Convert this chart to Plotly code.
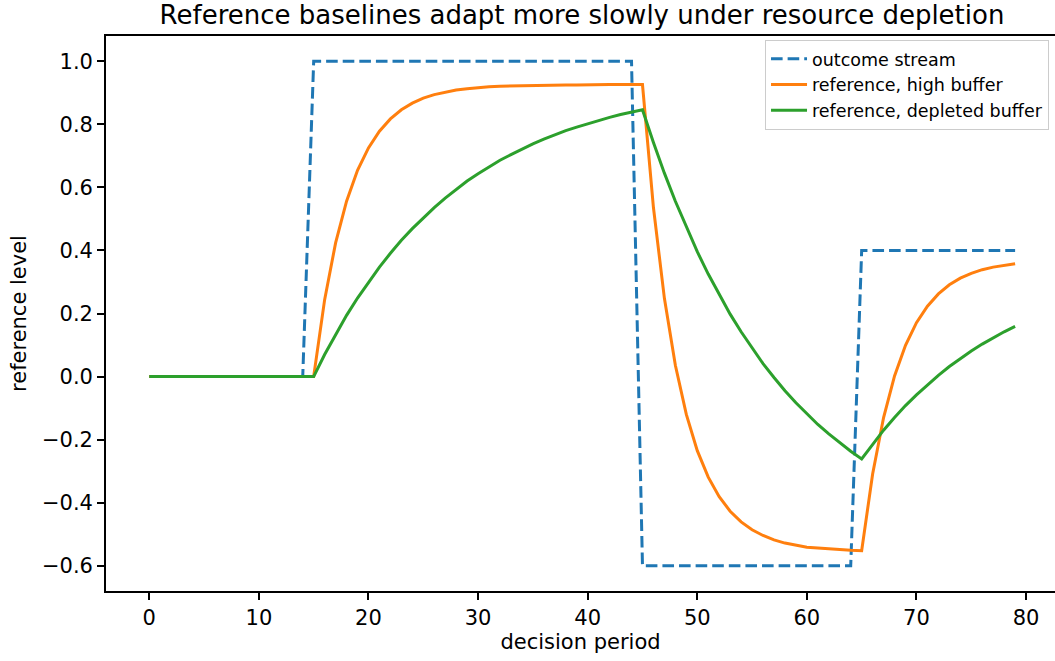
import plotly.graph_objects as go

periods = list(range(80))

outcome_stream = [0.0] * 15 + [1.0] * 30 + [-0.6] * 20 + [0.4] * 15

reference_high_buffer = (
    [0.0] * 16
    + [0.244, 0.424, 0.556, 0.654, 0.725, 0.778, 0.817, 0.846, 0.867, 0.883,
       0.894, 0.902, 0.909, 0.913, 0.917, 0.919, 0.921, 0.922, 0.923, 0.924,
       0.924, 0.925, 0.925, 0.925, 0.926, 0.926, 0.926, 0.926, 0.926, 0.926]
    + [0.536, 0.248, 0.036, -0.120, -0.235, -0.319, -0.381, -0.427, -0.461, -0.486,
       -0.504, -0.518, -0.528, -0.535, -0.541, -0.544, -0.547, -0.550, -0.551, -0.552]
    + [-0.309, -0.130, 0.002, 0.099, 0.171, 0.223, 0.262, 0.291, 0.312, 0.327,
       0.339, 0.347, 0.353, 0.358]
)

reference_depleted_buffer = (
    [0.0] * 16
    + [0.070, 0.134, 0.194, 0.249, 0.300, 0.347, 0.391, 0.432, 0.469, 0.504,
       0.536, 0.566, 0.594, 0.620, 0.643, 0.665, 0.686, 0.704, 0.722, 0.738,
       0.753, 0.767, 0.780, 0.791, 0.802, 0.813, 0.822, 0.831, 0.839, 0.846]
    + [0.742, 0.645, 0.556, 0.473, 0.396, 0.325, 0.259, 0.198, 0.142, 0.090,
       0.041, -0.003, -0.045, -0.083, -0.119, -0.152, -0.182, -0.211, -0.237, -0.261]
    + [-0.214, -0.170, -0.130, -0.092, -0.058, -0.026, 0.004, 0.032, 0.057, 0.081,
       0.103, 0.123, 0.142, 0.159]
)

series_names = ["outcome stream", "reference, high buffer", "reference, depleted buffer"]
x_ticks = [0, 10, 20, 30, 40, 50, 60, 70, 80]
y_ticks = [-0.6, -0.4, -0.2, 0.0, 0.2, 0.4, 0.6, 0.8, 1.0]
y_tick_labels = ["−0.6", "−0.4", "−0.2", "0.0", "0.2", "0.4", "0.6", "0.8", "1.0"]

FONT = "DejaVu Sans"

fig = go.Figure()
fig.add_trace(go.Scatter(
    x=periods, y=outcome_stream, mode="lines", name=series_names[0],
    line=dict(color="#1f77b4", width=3, dash="11.6px,5px"),
))
fig.add_trace(go.Scatter(
    x=periods, y=reference_high_buffer, mode="lines", name=series_names[1],
    line=dict(color="#ff7f0e", width=3),
))
fig.add_trace(go.Scatter(
    x=periods, y=reference_depleted_buffer, mode="lines", name=series_names[2],
    line=dict(color="#2ca02c", width=3),
))

fig.update_layout(
    width=1055, height=661,
    margin=dict(l=106, r=0, t=36, b=70, autoexpand=False),
    paper_bgcolor="white", plot_bgcolor="white",
    font=dict(family=FONT, size=21, color="black"),
    title=dict(
        text="Reference baselines adapt more slowly under resource depletion",
        font=dict(family=FONT, size=26, color="black"),
        xref="paper", x=0.5016, xanchor="center",
        yref="container", y=0.992, yanchor="top",
    ),
    showlegend=True,
    legend=dict(
        x=0.9937, xanchor="right", y=0.993, yanchor="top",
        bgcolor="rgba(255,255,255,0.8)", bordercolor="#cccccc", borderwidth=1,
        font=dict(family=FONT, size=17.5, color="black"),
        tracegroupgap=0, itemwidth=36,
    ),
    xaxis=dict(
        range=[-3.95, 82.64], tickvals=x_ticks, automargin=False,
        showgrid=False, zeroline=False,
        showline=True, linecolor="black", linewidth=1.7, mirror=True,
        ticks="outside", ticklen=7, tickwidth=1.7, tickcolor="black",
        tickfont=dict(family=FONT, size=21),
        title=dict(text="decision period", font=dict(family=FONT, size=21), standoff=5),
    ),
    yaxis=dict(
        range=[-0.68, 1.08], tickvals=y_ticks, ticktext=y_tick_labels, automargin=False,
        showgrid=False, zeroline=False,
        showline=True, linecolor="black", linewidth=1.7, mirror=False,
        ticks="outside", ticklen=7, tickwidth=1.7, tickcolor="black",
        tickfont=dict(family=FONT, size=21),
        title=dict(text="reference level", font=dict(family=FONT, size=21), standoff=10),
    ),
)

fig.write_html(
    "out.html",
    config={"displayModeBar": False},
    post_script="document.body.style.margin='0';document.body.style.overflow='hidden';",
)
